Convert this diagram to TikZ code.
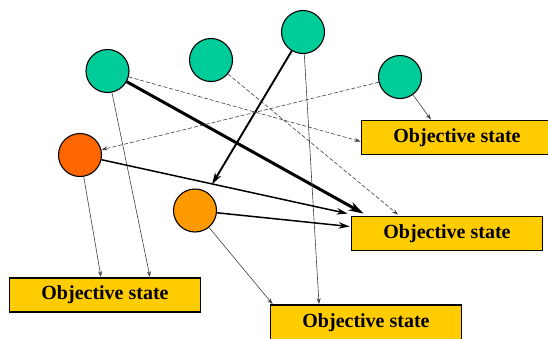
\documentclass[tikz,border=0pt]{standalone}
\usepackage{fontspec}
\setmainfont{Liberation Serif}
\usetikzlibrary{arrows.meta}
\definecolor{teal}{HTML}{00CC99}
\definecolor{redorange}{HTML}{FF6600}
\definecolor{orangec}{HTML}{FF9900}
\definecolor{boxyellow}{HTML}{FFCC00}
\tikzset{
  state/.style={circle, draw=black, line width=1.1pt, minimum size=43pt, inner sep=0pt},
  objbox/.style={rectangle, draw=black, line width=1.8pt, fill=boxyellow, minimum width=191pt, minimum height=34pt, inner sep=0pt, font=\fontsize{20}{24}\selectfont\bfseries},
  thinarrow/.style={line width=0.6pt, draw=black!75, -{Stealth[length=6pt,width=4pt]}},
  dasharrow/.style={line width=0.6pt, draw=black!75, dash pattern=on 4pt off 2pt, -{Stealth[length=6pt,width=4pt]}},
  medarrow/.style={line width=1.5pt, -{Stealth[length=11pt,width=6.5pt]}},
  g3arrow/.style={line width=1.9pt, -{Stealth[length=12pt,width=7pt]}},
  thickarrow/.style={line width=3pt, -{Stealth[length=15pt,width=9pt]}}
}
\begin{document}
\begin{tikzpicture}[x=1pt,y=-1pt]
\path[use as bounding box] (0,0) rectangle (548,338);
\begin{scope}
\clip (0,0) rectangle (548,338);
% circles
\node[state, fill=teal] (g1) at (107.5,71) {};
\node[state, fill=teal] (g2) at (211,60) {};
\node[state, fill=teal] (g3) at (303,32) {};
\node[state, fill=teal] (g4) at (400,77) {};
\node[state, fill=redorange] (o1) at (80,155) {};
\node[state, fill=orangec] (o2) at (195,210.5) {};
% boxes
\node[objbox] (b1) at (457,137.5) {Objective state};
\node[objbox] (b2) at (447,233.5) {Objective state};
\node[objbox] (b3) at (105,295) {Objective state};
\node[objbox, minimum height=36pt] (b4) at (366,323) {Objective state};
% connectors
\draw[thickarrow] (g1) -- ([xshift=13pt,yshift=2pt]b2.north west);
\draw[dasharrow] (g1) -- ([yshift=-4pt]b1.west);
\draw[thinarrow] (g1) -- ([xshift=45pt]b3.north);
\draw[dasharrow] (g2) -- ([xshift=-49pt,yshift=1pt]b2.north);
\draw[g3arrow] (g3) -- ([xshift=17pt,yshift=4pt]o2.north);
\draw[thinarrow] (g3) -- ([xshift=-47pt]b4.north);
\draw[thinarrow] (g4) -- ([xshift=-26pt]b1.north);
\draw[dasharrow] (g4) -- (o1);
\draw[medarrow] (o1) -- ([xshift=-3pt,yshift=2pt]b2.north west);
\draw[medarrow] (o2) -- ([xshift=-1pt,yshift=7pt]b2.west);
\draw[thinarrow] (o1) -- ([xshift=-4pt]b3.north);
\draw[thinarrow] (o2) -- ([xshift=3pt]b4.north west);
\end{scope}
\end{tikzpicture}
\end{document}
